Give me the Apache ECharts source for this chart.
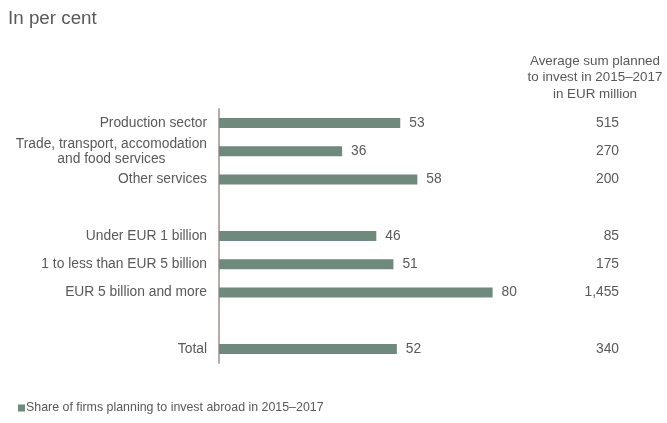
<!DOCTYPE html>
<html><head><meta charset="utf-8">
<script src="https://cdn.jsdelivr.net/npm/echarts@6/dist/echarts.min.js"></script>
<style>html,body{margin:0;padding:0;background:#fff}#c{width:667px;height:423px}</style>
</head><body><div id="c"></div>
<script>
var categories = ['Production sector', 'Trade, transport, accomodation\nand food services', 'Other services', '', 'Under EUR 1 billion', '1 to less than EUR 5 billion', 'EUR 5 billion and more', '', 'Total'];
var shareValues = [53, 36, 58, null, 46, 51, 80, null, 52];
var investLabels = ['515', '270', '200', '', '85', '175', '1,455', '', '340'];
var seriesName = 'Share of firms planning to invest abroad in 2015–2017';
var textColor = '#595959';
var ff = 'Liberation Sans, Arial';
var chart = echarts.init(document.getElementById('c'));
chart.setOption({
  animation: false,
  title: [
    {text: 'In per cent', left: 3, top: 4, textStyle: {fontFamily: ff, fontSize: 18.8, fontWeight: 'normal', color: textColor}},
    {text: 'Average sum planned\nto invest in 2015–2017\nin EUR million', left: 590, top: 48, textAlign: 'center',
     textStyle: {fontFamily: ff, fontSize: 13.4, fontWeight: 'normal', color: textColor, lineHeight: 16.5, align: 'center'}}
  ],
  legend: {
    left: 13, top: 397, itemWidth: 7, itemHeight: 7, itemGap: 4,
    icon: 'rect',
    textStyle: {fontFamily: ff, fontSize: 12.4, color: textColor, padding: [0, 0, 0, -4]},
    data: [seriesName]
  },
  grid: {left: 219, top: 109, width: 342, height: 254, containLabel: false},
  xAxis: {type: 'value', min: 0, max: 100, show: false},
  yAxis: [
    {type: 'category', inverse: true, data: categories,
     axisLine: {lineStyle: {color: '#b3aca8', width: 2}}, axisTick: {show: false},
     axisLabel: {margin: 12, fontFamily: ff, fontSize: 13.8, color: textColor, lineHeight: 15,
       formatter: function (v) { return '{a|' + v + '}'; },
       rich: {a: {fontFamily: ff, fontSize: 13.8, color: textColor, lineHeight: 15, align: 'center'}}}},
    {type: 'category', inverse: true, position: 'right', data: investLabels,
     axisLine: {show: false}, axisTick: {show: false},
     axisLabel: {margin: 58, align: 'right', fontFamily: ff, fontSize: 13.8, color: textColor}}
  ],
  series: [{
    name: seriesName, type: 'bar', data: shareValues, barWidth: 10,
    itemStyle: {color: '#6f897d'},
    label: {show: true, position: 'right', distance: 9, fontFamily: ff, fontSize: 13.8, color: textColor}
  }]
});
</script></body></html>
